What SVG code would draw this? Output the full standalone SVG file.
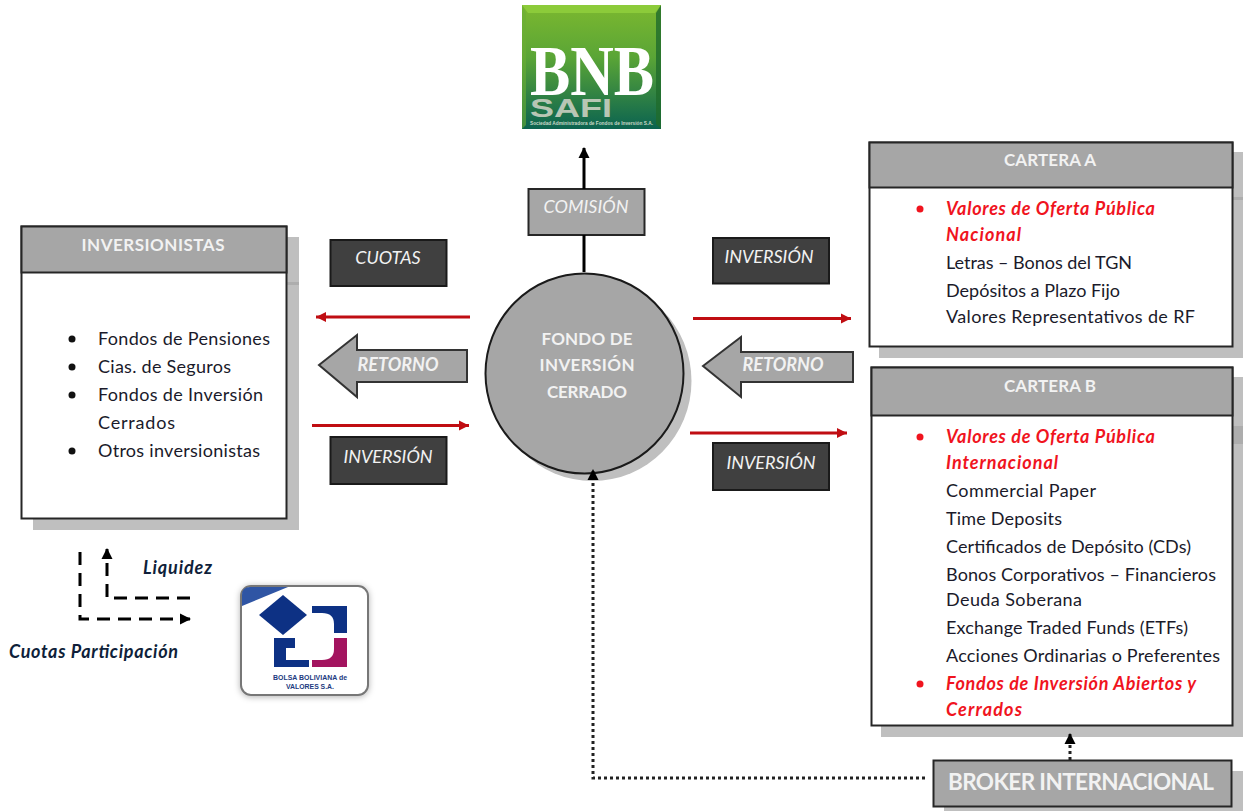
<svg xmlns="http://www.w3.org/2000/svg" width="1245" height="811" viewBox="0 0 1245 811">
<style>
text{font-family:Lato,"Open Sans","Liberation Sans",sans-serif}
.box{fill:#fff;stroke:#262626;stroke-width:2}
.head{fill:#a6a6a6;stroke:#262626;stroke-width:2}
.shadow{fill:#bfbfbf}
.band{fill:#adadad}
.dark{fill:#404040;stroke:#1a1a1a;stroke-width:2}
.title{fill:#f2f2f2;font-size:17px;font-weight:700;text-anchor:middle}
.tag{fill:#f2f2f2;font-size:18px;font-style:italic;text-anchor:middle}
.tagb{fill:#f2f2f2;font-size:18px;font-style:italic;font-weight:700;text-anchor:middle}
.item{fill:#1a1a2a;font-size:18px}
.red{fill:#f0141e;font-size:18px;font-style:italic;font-weight:700}
.leg{fill:#0f1f3a;font-size:18px;font-style:italic;font-weight:700}
.redline{fill:none;stroke:#c00d12;stroke-width:3;marker-end:url(#mred)}
.black{fill:none;stroke:#000;stroke-width:3}
.dash{fill:none;stroke:#000;stroke-width:3;stroke-dasharray:13 8}
.dot{fill:none;stroke:#222;stroke-width:3;stroke-dasharray:3 3}
</style>
<defs>
<marker id="mred" markerUnits="userSpaceOnUse" markerWidth="12" markerHeight="12" refX="10" refY="6" orient="auto"><path d="M0 1L10 6L0 11Z" fill="#c00d12"/></marker>
<marker id="mblack" markerUnits="userSpaceOnUse" markerWidth="12" markerHeight="12" refX="10" refY="6" orient="auto"><path d="M0 0.500L11 6L0 11.500Z" fill="#000"/></marker>
<linearGradient id="bnb" x1="0" y1="0" x2="0" y2="1"><stop offset="0" stop-color="#7cb82f"/><stop offset=".42" stop-color="#5aa536"/><stop offset="1" stop-color="#0b6350"/></linearGradient>
<filter id="soft" x="-15%" y="-15%" width="130%" height="130%"><feDropShadow dx="0" dy="1" stdDeviation="3" flood-color="#000" flood-opacity=".3"/></filter>
</defs>

<g id="logo-bnb">
<rect x="522" y="5" width="139" height="124" fill="url(#bnb)"/>
<path d="M522 5H661L655 13H528Z" fill="#8ccb3a"/>
<path d="M522 5V129L526 125V13Z" fill="#6aad35" opacity=".6"/>
<path d="M661 5V129L656 124V13Z" fill="#1f6b2c" opacity=".8"/>
<text x="530" y="95" textLength="124" lengthAdjust="spacingAndGlyphs" style="font-family:'Liberation Serif',serif;font-size:72px;font-weight:700;fill:#fff">BNB</text>
<text x="530" y="117" textLength="82" lengthAdjust="spacingAndGlyphs" style="font-family:'Liberation Sans',sans-serif;font-size:25px;font-weight:700;fill:#b8c6b4">SAFI</text>
<text x="530" y="125" textLength="123" lengthAdjust="spacingAndGlyphs" style="font-family:'Liberation Sans',sans-serif;font-size:5px;font-weight:700;fill:#c8d8c8">Sociedad Administradora de Fondos de Inversión S.A.</text>
</g>

<g id="comision">
<rect x="528.500" y="189" width="116" height="46" class="head"/>
<text x="586" y="213" class="tag">COMISIÓN</text>
</g>

<g id="inversionistas">
<rect x="33" y="237" width="266" height="293" class="shadow"/>
<rect x="287" y="282" width="12" height="3" class="band"/>
<rect x="21.500" y="226.500" width="265" height="292" class="box"/>
<rect x="21.500" y="226.500" width="265" height="46" class="head"/>
<text x="153" y="251" class="title" textLength="143">INVERSIONISTAS</text>
<circle cx="72" cy="339" r="3.500" fill="#111"/>
<text x="98" y="345" class="item" textLength="172">Fondos de Pensiones</text>
<circle cx="72" cy="367" r="3.500" fill="#111"/>
<text x="98" y="373" class="item" textLength="133">Cias. de Seguros</text>
<circle cx="72" cy="395" r="3.500" fill="#111"/>
<text x="98" y="401" class="item" textLength="165">Fondos de Inversión</text>
<text x="98" y="429" class="item" textLength="77">Cerrados</text>
<circle cx="72" cy="451" r="3.500" fill="#111"/>
<text x="98" y="457" class="item" textLength="162">Otros inversionistas</text>
</g>

<g id="cuotas">
<rect x="330.500" y="240" width="116" height="46" class="dark"/>
<text x="388" y="264" class="tag">CUOTAS</text>
</g>
<g id="retorno-izq">
<path d="M319 365L357 335V350H467V382H357V397Z" fill="#a6a6a6" stroke="#333" stroke-width="2"/>
<text x="398" y="371" class="tagb">RETORNO</text>
</g>
<g id="inversion-izq">
<rect x="330.500" y="437" width="116" height="47" class="dark"/>
<text x="388" y="463" class="tag">INVERSIÓN</text>
</g>

<g id="fondo">
<ellipse cx="592.500" cy="381" rx="99" ry="100" class="shadow"/>
<ellipse cx="584.500" cy="373.500" rx="99" ry="100" fill="#a6a6a6" stroke="#1a1a1a" stroke-width="2"/>
<text x="587" y="345" class="title" textLength="91">FONDO DE</text>
<text x="587" y="371" class="title" textLength="95">INVERSIÓN</text>
<text x="587" y="398" class="title" textLength="80">CERRADO</text>
</g>

<g id="inversion-der-a">
<rect x="713" y="238" width="116" height="45.500" class="dark"/>
<text x="769" y="263" class="tag">INVERSIÓN</text>
</g>
<g id="retorno-der">
<path d="M703 366L741 337V352H853V382H741V397Z" fill="#a6a6a6" stroke="#333" stroke-width="2"/>
<text x="783" y="371" class="tagb">RETORNO</text>
</g>
<g id="inversion-der-b">
<rect x="713" y="443" width="116" height="47" class="dark"/>
<text x="771" y="469" class="tag">INVERSIÓN</text>
</g>

<g id="cartera-a">
<rect x="879" y="152" width="364" height="206" class="shadow"/>
<rect x="1232" y="197" width="11" height="3" class="band"/>
<rect x="869.500" y="142.500" width="363" height="204" class="box"/>
<rect x="869.500" y="142.500" width="363" height="45" class="head"/>
<text x="1050" y="166" class="title" textLength="92">CARTERA A</text>
<circle cx="920" cy="209" r="3.500" fill="#f0141e"/>
<text x="946" y="215" class="red" textLength="209">Valores de Oferta Pública</text>
<text x="946" y="241" class="red" textLength="75">Nacional</text>
<text x="946" y="269" class="item" textLength="186">Letras – Bonos del TGN</text>
<text x="946" y="297" class="item" textLength="174">Depósitos a Plazo Fijo</text>
<text x="946" y="323" class="item" textLength="249">Valores  Representativos de RF</text>
</g>

<g id="cartera-b">
<rect x="881" y="377" width="362" height="360" class="shadow"/>
<rect x="1232" y="426" width="11" height="18" class="band"/>
<rect x="871.500" y="367.500" width="361" height="358" class="box"/>
<rect x="871.500" y="367.500" width="361" height="48" class="head"/>
<text x="1050" y="392" class="title" textLength="92">CARTERA B</text>
<circle cx="920" cy="437" r="3.500" fill="#f0141e"/>
<text x="946" y="443" class="red" textLength="209">Valores de Oferta Pública</text>
<text x="946" y="469" class="red" textLength="112">Internacional</text>
<text x="946" y="497" class="item" textLength="150">Commercial Paper</text>
<text x="946" y="525" class="item" textLength="116">Time Deposits</text>
<text x="946" y="553" class="item" textLength="245">Certificados de Depósito (CDs)</text>
<text x="946" y="581" class="item" textLength="270">Bonos Corporativos – Financieros</text>
<text x="946" y="606" class="item" textLength="136">Deuda Soberana</text>
<text x="946" y="634" class="item" textLength="242">Exchange Traded Funds (ETFs)</text>
<text x="946" y="662" class="item" textLength="274">Acciones Ordinarias o Preferentes</text>
<circle cx="920" cy="684" r="3.500" fill="#f0141e"/>
<text x="946" y="690" class="red" textLength="250">Fondos de Inversión Abiertos y</text>
<text x="946" y="716" class="red" textLength="76">Cerrados</text>
</g>

<g id="broker">
<rect x="944" y="771" width="299" height="40" class="shadow"/>
<rect x="933.500" y="760.500" width="298" height="46" class="head"/>
<text x="1081" y="790" class="title" style="font-size:22.500px" textLength="266">BROKER INTERNACIONAL</text>
</g>

<g id="leyenda">
<text x="143" y="574" class="leg" textLength="69">Liquidez</text>
<text x="9" y="658" class="leg" textLength="169">Cuotas Participación</text>
</g>

<g id="logo-bbv">
<rect x="241" y="586" width="127" height="109" rx="10" fill="#fff" stroke="#777" stroke-width="2" filter="url(#soft)"/>
<path d="M242 606V595Q242 587 250 587H288Z" fill="#2f55a4"/>
<path d="M259 615L283 595L307 615L283 635Z" fill="#0d3184"/>
<path d="M312 606H347V633H334V624Q334 613 322 613H312Z" fill="#0d3184"/>
<path d="M274 638H295V648H286V660H309V667H274Z" fill="#0d3184"/>
<path d="M347 638V667H312V660H322Q334 660 334 649V638Z" fill="#a3145f"/>
<text x="310" y="680" text-anchor="middle" textLength="74" lengthAdjust="spacingAndGlyphs" style="font-family:'Liberation Sans',sans-serif;font-size:7px;font-weight:700;fill:#1c3a80">BOLSA BOLIVIANA de</text>
<text x="310" y="689" text-anchor="middle" textLength="48" lengthAdjust="spacingAndGlyphs" style="font-family:'Liberation Sans',sans-serif;font-size:7px;font-weight:700;fill:#1c3a80">VALORES S.A.</text>
</g>

<g id="connectors">
<path class="black" d="M584 272V235"/>
<path class="black" d="M584 189V148" marker-end="url(#mblack)"/>
<path class="redline" d="M470 317H316"/>
<path class="redline" d="M312 425.500H469"/>
<path class="redline" d="M693 318.500H851"/>
<path class="redline" d="M690 433H847"/>
<path class="dash" d="M80 552V619H190" marker-end="url(#mblack)"/>
<path class="dash" d="M190 598H107V549" marker-end="url(#mblack)"/>
<path class="dot" d="M925 778H593V470" marker-end="url(#mblack)"/>
<path class="dot" d="M1070 760V734" marker-end="url(#mblack)"/>
</g>
</svg>
